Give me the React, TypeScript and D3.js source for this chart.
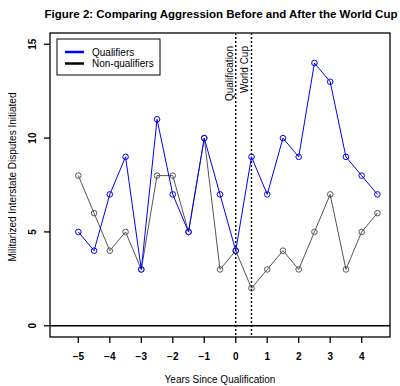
import React from "react";
import * as d3 from "d3";

// years relative to qualification, half-year steps
const years = [-5, -4.5, -4, -3.5, -3, -2.5, -2, -1.5, -1, -0.5, 0, 0.5, 1, 1.5, 2, 2.5, 3, 3.5, 4, 4.5];
const qualifiers = [5, 4, 7, 9, 3, 11, 7, 5, 10, 7, 4, 9, 7, 10, 9, 14, 13, 9, 8, 7];
const nonQualifiers = [8, 6, 4, 5, 3, 8, 8, 5, 10, 3, 4, 2, 3, 4, 3, 5, 7, 3, 5, 6];
const xTicks = [-5, -4, -3, -2, -1, 0, 1, 2, 3, 4];
const yTicks = [0, 5, 10, 15];
const events = [
  { x: 0, label: "Qualification" },
  { x: 0.5, label: "World Cup" },
];

const W = 400, H = 386;
const box = { left: 50, right: 390, top: 33, bottom: 337 };
const font = "Liberation Sans, Arial, sans-serif";

export default function App() {
  const x = d3.scaleLinear().domain([-5.9, 4.9]).range([box.left, box.right]);
  const y = d3.scaleLinear().domain([-0.6, 15.6]).range([box.bottom, box.top]);

  const line = d3
    .line<number>()
    .x((_, i) => x(years[i]))
    .y((d) => y(d));

  const series = [
    { name: "Non-qualifiers", values: nonQualifiers, color: "#555555", legend: "#000000" },
    { name: "Qualifiers", values: qualifiers, color: "#0000ff", legend: "#0000ff" },
  ];

  const fmt = (v: number) => (v < 0 ? "\u2212" + Math.abs(v) : String(v));

  return (
    <svg width={W} height={H} style={{ position: "absolute", left: 0, top: 0, background: "#fff" }} fontFamily={font}>
      <text x={221} y={18} textAnchor="middle" fontSize={11.5} fontWeight="bold">
        Figure 2: Comparing Aggression Before and After the World Cup
      </text>

      {/* zero line */}
      <line x1={box.left} x2={box.right} y1={y(0)} y2={y(0)} stroke="#000" strokeWidth={1.3} />

      {/* event markers */}
      {events.map((e) => (
        <g key={e.label}>
          <line x1={x(e.x)} x2={x(e.x)} y1={box.top} y2={box.bottom} stroke="#000" strokeWidth={1.4} strokeDasharray="2,2" />
          <text
            transform={`translate(${x(e.x) - 3},${46}) rotate(-90)`}
            textAnchor="end"
            fontSize={10}
          >
            {e.label}
          </text>
        </g>
      ))}

      {series.map((s) => (
        <g key={s.name}>
          <path d={line(s.values) || ""} fill="none" stroke={s.color} strokeWidth={1} />
          {s.values.map((v, i) => (
            <circle key={i} cx={x(years[i])} cy={y(v)} r={2.8} fill="none" stroke={s.color} strokeWidth={1} />
          ))}
        </g>
      ))}

      {/* plot box */}
      <rect x={box.left} y={box.top} width={box.right - box.left} height={box.bottom - box.top} fill="none" stroke="#000" strokeWidth={1.3} />

      {/* x axis */}
      {xTicks.map((t) => (
        <g key={t}>
          <line x1={x(t)} x2={x(t)} y1={box.bottom} y2={box.bottom + 6} stroke="#000" strokeWidth={1.3} />
          <text x={x(t)} y={360} textAnchor="middle" fontSize={10} fontWeight="bold">
            {fmt(t)}
          </text>
        </g>
      ))}
      <text x={220} y={383} textAnchor="middle" fontSize={10}>
        Years Since Qualification
      </text>

      {/* y axis */}
      {yTicks.map((t) => (
        <g key={t}>
          <line x1={box.left - 6} x2={box.left} y1={y(t)} y2={y(t)} stroke="#000" strokeWidth={1.3} />
          <text transform={`translate(${36},${y(t)}) rotate(-90)`} textAnchor="middle" fontSize={10} fontWeight="bold">
            {t}
          </text>
        </g>
      ))}
      <text transform={`translate(${16},${177}) rotate(-90)`} textAnchor="middle" fontSize={10}>
        Militarized Interstate Disputes Initiated
      </text>

      {/* legend */}
      <rect x={57} y={39} width={103} height={36} fill="#fff" stroke="#000" strokeWidth={1} />
      {[series[1], series[0]].map((s, i) => (
        <g key={s.name}>
          <line x1={65} x2={84} y1={52 + i * 11.5} y2={52 + i * 11.5} stroke={s.legend} strokeWidth={2.5} />
          <text x={92} y={55.5 + i * 11.5} fontSize={10}>
            {s.name}
          </text>
        </g>
      ))}
    </svg>
  );
}
